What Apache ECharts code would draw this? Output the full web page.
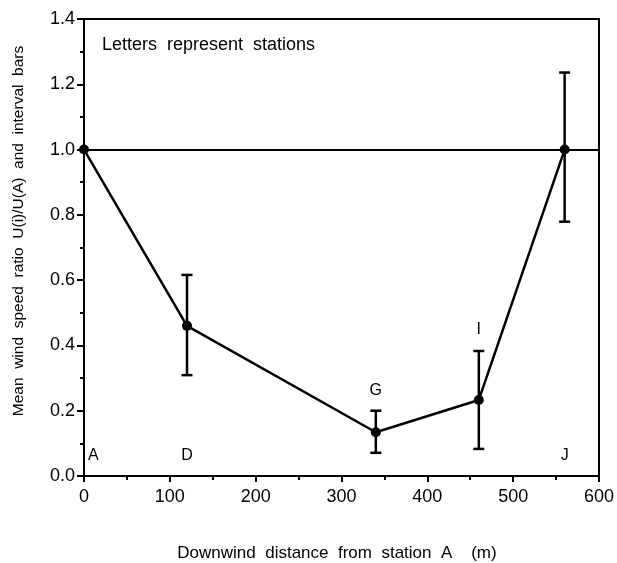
<!DOCTYPE html>
<html>
<head>
<meta charset="utf-8">
<script src="https://cdn.jsdelivr.net/npm/echarts@6/dist/echarts.min.js"></script>
<style>
html,body{margin:0;padding:0;background:#fff;}
#chart{width:617px;height:563px;}
</style>
</head>
<body>
<div id="chart"></div>
<script>
// Data
var stations = ['A', 'D', 'G', 'I', 'J'];
var distances = [0, 120, 340, 460, 560];
var meanRatio = [1.0, 0.46, 0.134, 0.233, 1.0];
var lowerBound = [null, 0.309, 0.071, 0.083, 0.779];
var upperBound = [null, 0.616, 0.200, 0.383, 1.236];
var labelX = [11, 120, 340, 460, 560];
var labelY = [0.062, 0.062, 0.262, 0.447, 0.062];
var xTicks = [0, 100, 200, 300, 400, 500, 600];
var yTicks = [0.0, 0.2, 0.4, 0.6, 0.8, 1.0, 1.2, 1.4];
var referenceLevel = 1.0;

var FONT = 'Liberation Sans';
var lineData = distances.map(function (d, i) { return [d, meanRatio[i]]; });
var errData = [];
distances.forEach(function (d, i) {
  if (lowerBound[i] != null) errData.push([d, lowerBound[i], upperBound[i]]);
});
var labelData = stations.map(function (s, i) { return [labelX[i], labelY[i], s]; });

var chart = echarts.init(document.getElementById('chart'), null, {renderer: 'canvas'});
chart.setOption({
  animation: false,
  backgroundColor: '#fff',
  grid: {left: 84, right: 16, top: 19, bottom: 87, show: true, borderColor: '#000', borderWidth: 2, backgroundColor: 'transparent'},
  xAxis: {
    type: 'value', min: xTicks[0], max: xTicks[xTicks.length - 1], interval: 100,
    axisLine: {show: true, lineStyle: {color: '#000', width: 2}},
    axisTick: {show: true, inside: false, length: 6, lineStyle: {color: '#000', width: 2}},
    minorTick: {show: true, splitNumber: 2, length: 4, lineStyle: {color: '#000', width: 2}},
    splitLine: {show: false},
    axisLabel: {fontFamily: FONT, fontSize: 18, color: '#000', margin: 12}
  },
  yAxis: {
    type: 'value', min: yTicks[0], max: yTicks[yTicks.length - 1], interval: 0.2,
    axisLine: {show: true, lineStyle: {color: '#000', width: 2}},
    axisTick: {show: true, inside: false, length: 7, lineStyle: {color: '#000', width: 2}},
    minorTick: {show: true, splitNumber: 2, length: 4, lineStyle: {color: '#000', width: 2}},
    splitLine: {show: false},
    axisLabel: {fontFamily: FONT, fontSize: 18, color: '#000', margin: 9, formatter: function (v) { return v.toFixed(1); }}
  },
  graphic: [
    {
      type: 'text', left: 102, top: 36,
      style: {text: 'Letters  represent  stations', fontFamily: FONT, fontSize: 18, fill: '#000'}
    },
    {
      type: 'text', x: 337, y: 553,
      style: {text: 'Downwind  distance  from  station  A    (m)', fontFamily: FONT, fontSize: 17, fill: '#000', align: 'center', verticalAlign: 'middle'}
    },
    {
      type: 'text', x: 19, y: 231, rotation: Math.PI / 2,
      style: {text: 'Mean  wind  speed  ratio  U(i)/U(A)  and  interval  bars', fontFamily: FONT, fontSize: 15.5, fill: '#000', align: 'center', verticalAlign: 'middle'}
    }
  ],
  series: [
    {
      type: 'line', data: lineData, symbol: 'circle', symbolSize: 10,
      lineStyle: {color: '#000', width: 2.5}, itemStyle: {color: '#000'},
      markLine: {silent: true, symbol: ['none', 'none'], label: {show: false},
        lineStyle: {color: '#000', width: 2, type: 'solid'}, data: [{yAxis: referenceLevel}]},
      z: 3
    },
    {
      type: 'custom', data: errData, z: 2,
      renderItem: function (params, api) {
        var x = api.value(0);
        var lo = api.coord([x, api.value(1)]);
        var hi = api.coord([x, api.value(2)]);
        var hw = 5.5;
        var st = {stroke: '#000', lineWidth: 2.5};
        return {type: 'group', children: [
          {type: 'line', shape: {x1: lo[0], y1: lo[1], x2: hi[0], y2: hi[1]}, style: st},
          {type: 'line', shape: {x1: lo[0] - hw, y1: lo[1], x2: lo[0] + hw, y2: lo[1]}, style: st},
          {type: 'line', shape: {x1: hi[0] - hw, y1: hi[1], x2: hi[0] + hw, y2: hi[1]}, style: st}
        ]};
      }
    },
    {
      type: 'scatter', data: labelData, symbolSize: 0, silent: true,
      itemStyle: {opacity: 1, color: '#000'},
      label: {show: true, position: 'inside', formatter: function (p) { return p.value[2]; },
        fontFamily: FONT, fontSize: 16, color: '#000', opacity: 1}
    }
  ]
});
</script>
</body>
</html>
